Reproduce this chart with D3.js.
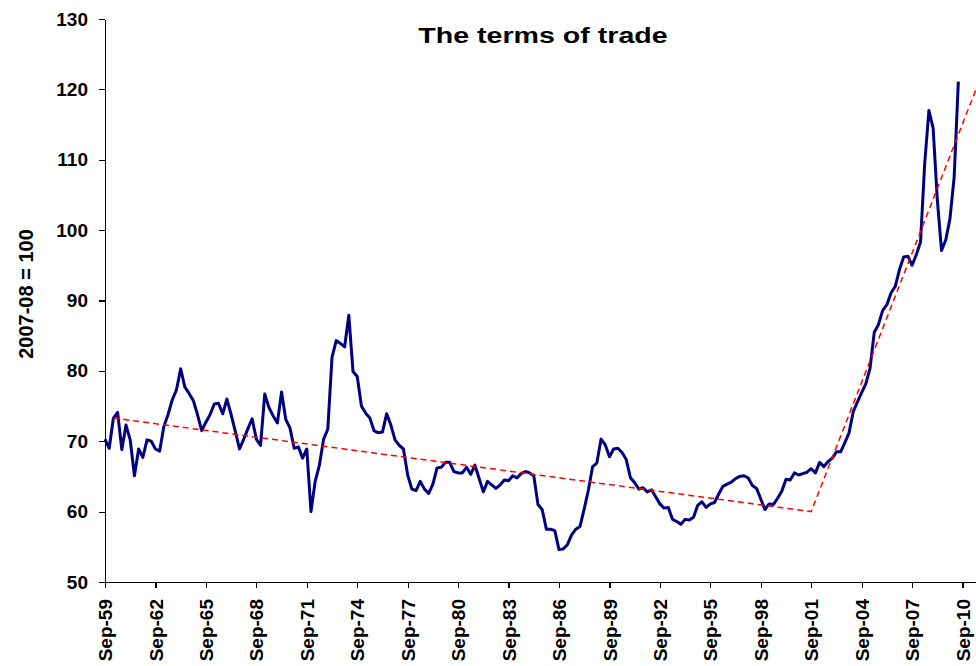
<!DOCTYPE html>
<html>
<head>
<meta charset="utf-8">
<script src="https://cdn.jsdelivr.net/npm/d3@7"></script>
<style>
  body { margin: 0; background: #fff; }
  svg { display: block; font-family: "Liberation Sans", Arial, sans-serif; }
</style>
</head>
<body>
<script>
// terms of trade, quarterly, index 2007-08 = 100, first quarter is Sep-59
var firstYear = 1959;
var tot = [
    70.3, 69.0, 73.3, 74.1, 68.8, 72.3, 70.2, 65.1, 68.9, 67.7,
    70.2, 70.0, 68.9, 68.6, 72.1, 73.8, 75.9, 77.3, 80.3, 77.7,
    76.8, 75.8, 73.8, 71.5, 72.7, 73.8, 75.3, 75.4, 73.9, 76.0,
    73.8, 71.4, 68.9, 70.3, 71.8, 73.2, 70.3, 69.4, 76.7, 74.8,
    73.6, 72.6, 77.0, 73.1, 71.9, 69.0, 69.2, 67.6, 68.9, 60.0,
    64.3, 66.6, 70.3, 71.7, 81.9, 84.3, 83.9, 83.4, 87.9, 79.9,
    79.2, 75.0, 74.0, 73.3, 71.5, 71.2, 71.3, 73.9, 72.3, 70.2,
    69.4, 68.9, 65.2, 63.2, 63.0, 64.3, 63.2, 62.6, 63.9, 66.2,
    66.3, 67.0, 67.0, 65.7, 65.5, 65.5, 66.3, 65.3, 66.6, 64.7,
    62.8, 64.3, 63.8, 63.3, 63.8, 64.5, 64.4, 65.1, 64.8, 65.4,
    65.7, 65.5, 65.1, 61.0, 60.3, 57.5, 57.5, 57.3, 54.6, 54.7,
    55.3, 56.7, 57.5, 57.9, 60.4, 63.1, 66.4, 66.9, 70.3, 69.5,
    67.8, 68.9, 69.0, 68.4, 67.4, 64.8, 64.1, 63.2, 63.4, 62.8,
    63.1, 62.1, 61.1, 60.5, 60.6, 58.9, 58.6, 58.2, 58.9, 58.8,
    59.2, 60.9, 61.4, 60.6, 61.1, 61.3, 62.5, 63.6, 63.9, 64.2,
    64.7, 65.0, 65.1, 64.8, 63.7, 63.3, 61.8, 60.3, 61.1, 61.0,
    61.9, 62.9, 64.6, 64.5, 65.5, 65.2, 65.4, 65.6, 66.1, 65.5,
    67.0, 66.4, 67.1, 67.6, 68.5, 68.5, 69.8, 71.2, 74.2, 75.6,
    76.9, 78.2, 80.4, 85.5, 86.6, 88.6, 89.4, 91.1, 92.0, 94.4,
    96.2, 96.3, 95.0, 96.5, 98.3, 109.5, 117.0, 114.5, 104.3, 97.1,
    98.6, 101.6, 107.5, 121.1
];

// red dashed trend: quarter number (0 = Sep-59) and level
var trendQuarter = [2, 168, 207.2];
var trendValue = [73.3, 60.0, 120.0];

var yTicks = [50, 60, 70, 80, 90, 100, 110, 120, 130];
var xTickLabels = ["Sep-59", "Sep-62", "Sep-65", "Sep-68", "Sep-71", "Sep-74",
    "Sep-77", "Sep-80", "Sep-83", "Sep-86", "Sep-89", "Sep-92", "Sep-95",
    "Sep-98", "Sep-01", "Sep-04", "Sep-07", "Sep-10"];

var width = 976, height = 666;
var plotLeft = 105, plotRight = 976, plotTop = 19, plotBottom = 582;

var svg = d3.select("body")
    .append("svg")
    .attr("width", width)
    .attr("height", height);

var x = d3.scaleLinear()
    .domain([0, 207.2])
    .range([plotLeft, plotRight]);

var y = d3.scaleLinear()
    .domain([50, 130])
    .range([plotBottom, plotTop]);

// axes
var xAxis = d3.axisBottom(x)
    .tickValues(xTickLabels.map(function(d, i) { return i * 12; }))
    .tickFormat(function(d, i) { return xTickLabels[i]; })
    .tickSize(6)
    .tickSizeOuter(0);

var yAxis = d3.axisLeft(y)
    .tickValues(yTicks)
    .tickSize(6)
    .tickSizeOuter(0);

var gx = svg.append("g")
    .attr("transform", "translate(0," + plotBottom + ")")
    .call(xAxis);

gx.selectAll("text")
    .attr("transform", "rotate(-90)")
    .attr("x", -17)
    .attr("y", 0)
    .attr("dy", ".35em")
    .style("text-anchor", "end");

var gy = svg.append("g")
    .attr("transform", "translate(" + plotLeft + ",0)")
    .call(yAxis);

gy.selectAll("text")
    .attr("x", -17);

svg.selectAll(".tick text")
    .attr("fill", "#000")
    .attr("font-family", "Liberation Sans, Arial, sans-serif")
    .attr("font-weight", "bold")
    .attr("font-size", 19);

svg.selectAll(".domain, .tick line")
    .attr("stroke", "#000")
    .attr("stroke-width", 1.2)
    .attr("shape-rendering", "crispEdges");

// series line
var line = d3.line()
    .x(function(d, i) { return x(i); })
    .y(function(d) { return y(d); });

svg.append("path")
    .datum(tot)
    .attr("fill", "none")
    .attr("stroke", "#000080")
    .attr("stroke-width", 3)
    .attr("stroke-linejoin", "round")
    .attr("d", line);

// trend line
var trend = trendQuarter.map(function(q, i) { return [q, trendValue[i]]; });

svg.append("path")
    .datum(trend)
    .attr("fill", "none")
    .attr("stroke", "#ff0000")
    .attr("stroke-width", 1.5)
    .attr("stroke-dasharray", "6,4")
    .attr("d", d3.line()
        .x(function(d) { return x(d[0]); })
        .y(function(d) { return y(d[1]); }));

// titles
svg.append("text")
    .attr("transform", "translate(543,43) scale(1.3,1)")
    .style("text-anchor", "middle")
    .attr("font-weight", "bold")
    .attr("font-size", 22)
    .text("The terms of trade");

svg.append("text")
    .attr("transform", "translate(33,294) rotate(-90)")
    .style("text-anchor", "middle")
    .attr("font-weight", "bold")
    .attr("font-size", 20)
    .text("2007-08 = 100");
</script>
</body>
</html>
